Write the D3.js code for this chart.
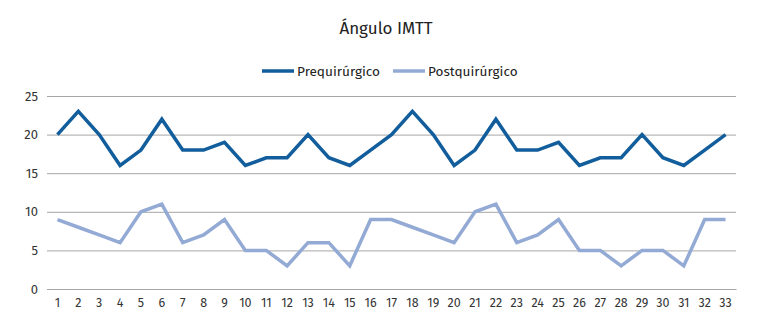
<!DOCTYPE html>
<html><head><meta charset="utf-8">
<script src="https://cdn.jsdelivr.net/npm/d3@7"></script>
<style>body{margin:0;background:#fff;} text{font-family:"Fira Sans","Noto Sans","Open Sans",sans-serif;}</style>
</head><body><svg id="c" width="760" height="335"></svg>
<script>
const categories = d3.range(1, 34).map(String);
const pre = [20,23,20,16,18,22,18,18,19,16,17,17,20,17,16,18,20,23,20,16,18,22,18,18,19,16,17,17,20,17,16,18,20];
const post = [9,8,7,6,10,11,6,7,9,5,5,3,6,6,3,9,9,8,7,6,10,11,6,7,9,5,5,3,5,5,3,9,9];
const yTicks = [0,5,10,15,20,25];
const seriesNames = ["Prequirúrgico","Postquirúrgico"];
const colors = ["#125d9c","#93aad5"];

const svg = d3.select("#c");
const x = d3.scaleBand().domain(categories).range([47, 736]);
const y = d3.scaleLinear().domain([0, 25]).range([289, 96]);

svg.append("text").attr("x", 386).attr("y", 34).attr("text-anchor","middle")
  .attr("font-size", 17).attr("fill","#222").text("Ángulo IMTT");

const gy = svg.append("g").attr("transform","translate(47,0)")
  .call(d3.axisLeft(y).tickValues(yTicks).tickSize(-(736-47)).tickPadding(9));
gy.select(".domain").remove();
gy.selectAll(".tick line").attr("stroke","#a6a6a6").attr("stroke-width",1);
gy.selectAll(".tick text").attr("font-size",13).attr("fill","#333")
  .style("font-family",'"Fira Sans","Noto Sans",sans-serif');

const gx = svg.append("g").attr("transform","translate(0,289)")
  .call(d3.axisBottom(x).tickSize(0).tickPadding(9));
gx.select(".domain").attr("stroke","#a6a6a6");
gx.selectAll(".tick text").attr("font-size",12.5).attr("fill","#333")
  .style("font-family",'"Fira Sans","Noto Sans",sans-serif');

const line = d3.line().x((d,i)=>x(categories[i]) + x.bandwidth()/2).y(d=>y(d));
[pre, post].forEach((s, k) => {
  svg.append("path").datum(s).attr("d", line).attr("fill","none")
    .attr("stroke", colors[k]).attr("stroke-width", 3.5).attr("stroke-linejoin","miter");
});

const legX = [262, 393];
seriesNames.forEach((n, k) => {
  svg.append("line").attr("x1", legX[k]).attr("x2", legX[k]+32).attr("y1", 71).attr("y2", 71)
    .attr("stroke", colors[k]).attr("stroke-width", 3.5);
  svg.append("text").attr("x", legX[k]+35).attr("y", 76).attr("font-size", 13.6).attr("fill","#222").text(n);
});
</script></body></html>
